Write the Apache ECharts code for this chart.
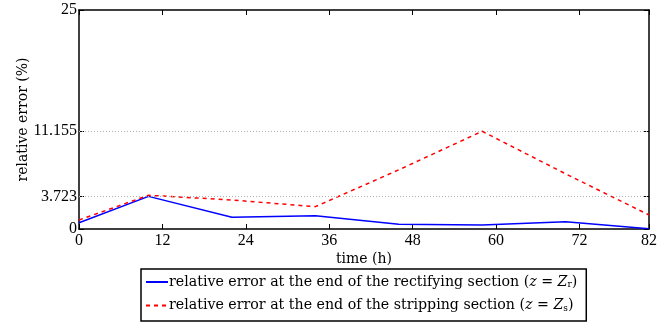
<!DOCTYPE html>
<html>
<head>
<meta charset="utf-8">
<script src="https://cdn.jsdelivr.net/npm/echarts@6/dist/echarts.min.js"></script>
<style>
  html, body { margin: 0; padding: 0; background: #fff; }
  #chart { width: 660px; height: 322px; }
</style>
</head>
<body>
<div id="chart"></div>
<script>
const times = [0, 10, 22, 34, 46, 58, 70, 82];
const rectifying = [0.72, 3.723, 1.33, 1.5, 0.53, 0.45, 0.84, 0.02];
const stripping = [1.03, 3.85, 3.31, 2.55, 6.75, 11.155, 6.3, 1.6];
const xTicks = [0, 12, 24, 36, 48, 60, 72, 82];
const yTicks = [0, 3.723, 11.155, 25];
const gridValues = [3.723, 11.155];

const serif = 'Liberation Serif';
const wide = 'DejaVu Serif';
const chart = echarts.init(document.getElementById('chart'));

const axisLine = { show: true, onZero: false, lineStyle: { color: '#000', width: 1.5 } };
const tickStyle = { color: '#000', width: 1 };

const option = {
  backgroundColor: '#fff',
  animation: false,
  textStyle: { fontFamily: serif },
  grid: { left: 79, right: 8, top: 10, bottom: 93 },
  legend: {
    orient: 'vertical',
    left: 141,
    top: 269,
    padding: [6, 9, 8, 4],
    itemGap: 9,
    itemWidth: 22,
    itemHeight: 14,
    borderColor: '#000',
    borderWidth: 1.5,
    borderRadius: 0,
    itemStyle: { opacity: 0 },
    textStyle: {
      fontFamily: wide,
      fontSize: 14.2,
      color: '#000',
      padding: [0, 0, 0, -4],
      rich: {
        t: { fontFamily: wide, fontSize: 14.2, color: '#000' },
        i: { fontFamily: wide, fontSize: 14.2, fontStyle: 'italic', color: '#000' },
        s: { fontFamily: wide, fontSize: 9, color: '#000', verticalAlign: 'bottom', padding: [6, 0, 0, 0] }
      }
    },
    formatter: function (name) {
      if (name === 'rect') {
        return '{t|relative error at the end of the rectifying section (}{i|z}{t| = }{i|Z}{s|r}{t|)}';
      }
      return '{t|relative error at the end of the stripping section (}{i|z}{t| = }{i|Z}{s|s}{t|)}';
    }
  },
  xAxis: [
    {
      type: 'value',
      min: 0,
      max: 82,
      name: 'time (h)',
      nameLocation: 'middle',
      nameGap: 23,
      nameMoveOverlap: false,
      nameTextStyle: { fontFamily: wide, fontSize: 14, color: '#000' },
      axisLine: axisLine,
      axisTick: { show: true, inside: true, length: 5, customValues: xTicks, lineStyle: tickStyle },
      axisLabel: { customValues: xTicks, margin: 4, fontFamily: serif, fontSize: 16, color: '#000' },
      splitLine: { show: false }
    },
    {
      type: 'value',
      position: 'top',
      min: 0,
      max: 82,
      axisLine: axisLine,
      axisTick: { show: true, inside: true, length: 5, customValues: xTicks, lineStyle: tickStyle },
      axisLabel: { show: false },
      splitLine: { show: false }
    }
  ],
  yAxis: [
    {
      type: 'value',
      min: 0,
      max: 25,
      name: 'relative error (%)',
      nameLocation: 'middle',
      nameGap: 49,
      nameMoveOverlap: false,
      nameTextStyle: { fontFamily: wide, fontSize: 14, color: '#000' },
      axisLine: axisLine,
      axisTick: { show: true, inside: true, length: 5, customValues: yTicks, lineStyle: tickStyle },
      axisLabel: { customValues: yTicks, margin: 2, fontFamily: serif, fontSize: 16, color: '#000' },
      splitLine: { show: false }
    },
    {
      type: 'value',
      position: 'right',
      min: 0,
      max: 25,
      axisLine: axisLine,
      axisTick: { show: true, inside: true, length: 5, customValues: yTicks, lineStyle: tickStyle },
      axisLabel: { show: false },
      splitLine: { show: false }
    }
  ],
  series: [
    {
      name: 'rect',
      type: 'line',
      data: times.map((t, i) => [t, rectifying[i]]),
      symbol: 'none',
      lineStyle: { color: '#0000ff', width: 1.5 },
      itemStyle: { color: '#0000ff' },
      z: 3,
      markLine: {
        silent: true,
        symbol: 'none',
        label: { show: false },
        lineStyle: { color: '#b0b0b0', type: [1, 2], width: 1 },
        data: gridValues.map(v => ({ yAxis: v }))
      }
    },
    {
      name: 'strip',
      type: 'line',
      data: times.map((t, i) => [t, stripping[i]]),
      symbol: 'none',
      lineStyle: { color: '#ff0000', width: 1.5, type: [4, 4] },
      itemStyle: { color: '#ff0000' },
      z: 4
    }
  ]
};

chart.setOption(option);
</script>
</body>
</html>
